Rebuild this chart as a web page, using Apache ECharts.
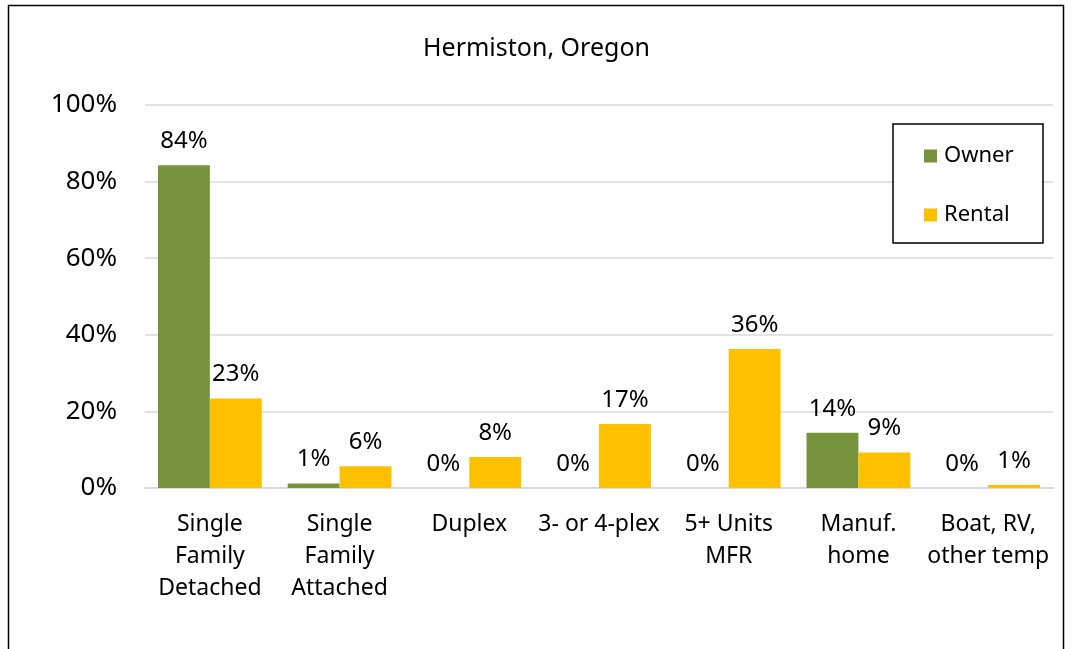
<!DOCTYPE html>
<html>
<head>
<meta charset="utf-8">
<script src="https://cdn.jsdelivr.net/npm/echarts@6/dist/echarts.min.js"></script>
<style>
    html, body { margin: 0; padding: 0; background: #fff; }
    #chart { width: 1073px; height: 649px; }
</style>
</head>
<body>
<div id="chart"></div>
<script>
// 数据
const categories = ['Single\nFamily\nDetached', 'Single\nFamily\nAttached', 'Duplex', '3- or 4-plex', '5+ Units\nMFR', 'Manuf.\nhome', 'Boat, RV,\nother temp'];
const ownerValues = [84.3, 1.2, 0, 0, 0, 14.4, 0];
const rentalValues = [23.4, 5.7, 8.1, 16.7, 36.3, 9.3, 0.8];
const yTicks = [0, 20, 40, 60, 80, 100];

const FONT = '"Noto Sans", sans-serif';

function initChart() {
    const chartDom = document.getElementById('chart');
    const myChart = echarts.init(chartDom);

    const labelStyle = {
        show: true,
        position: 'top',
        distance: 12,
        color: '#000',
        fontSize: 24,
        fontFamily: FONT,
        formatter: (p) => Math.round(p.value) + '%'
    };

    const option = {
        backgroundColor: '#fff',
        animation: false,
        title: {
            text: 'Hermiston, Oregon',
            left: 'center',
            top: 31,
            textStyle: { color: '#000', fontSize: 25, fontWeight: 'normal', fontFamily: FONT }
        },
        graphic: [{
            type: 'rect',
            shape: { x: 8.5, y: 5.5, width: 1055, height: 700 },
            style: { fill: 'none', stroke: '#000', lineWidth: 1.5 },
            silent: true
        }, {
            type: 'rect',
            shape: { x: 893, y: 124, width: 150, height: 119 },
            style: { fill: '#fff', stroke: '#000', lineWidth: 1.5 },
            z: 5,
            silent: true
        }],
        legend: {
            orient: 'vertical',
            left: 924,
            top: 144,
            padding: 0,
            itemWidth: 13,
            itemHeight: 13,
            itemGap: 35,
            icon: 'rect',
            z: 10,
            textStyle: { color: '#000', fontSize: 22, lineHeight: 24, fontFamily: FONT, padding: [0, 0, 0, 2] },
            data: ['Owner', 'Rental']
        },
        grid: {
            left: 145,
            right: 20,
            top: 105,
            bottom: 161
        },
        xAxis: {
            type: 'category',
            data: categories,
            axisLine: { lineStyle: { color: '#d9d9d9', width: 2 } },
            axisTick: { show: false },
            axisLabel: {
                color: '#000',
                fontSize: 23,
                fontFamily: FONT,
                lineHeight: 32,
                margin: 20,
                interval: 0
            }
        },
        yAxis: {
            type: 'value',
            min: 0,
            max: 100,
            interval: 20,
            axisLine: { show: false },
            axisTick: { show: false },
            axisLabel: {
                color: '#000',
                fontSize: 26,
                fontFamily: FONT,
                margin: 28,
                formatter: (v) => yTicks.includes(v) ? v + '%' : ''
            },
            splitLine: { lineStyle: { color: '#d9d9d9', width: 1.5 } }
        },
        series: [{
            name: 'Owner',
            type: 'bar',
            data: ownerValues,
            barGap: '0%',
            barCategoryGap: '20%',
            itemStyle: { color: '#77933C' },
            label: labelStyle
        }, {
            name: 'Rental',
            type: 'bar',
            data: rentalValues,
            barGap: '0%',
            barCategoryGap: '20%',
            itemStyle: { color: '#FFC000' },
            label: labelStyle
        }]
    };

    myChart.setOption(option);
}

initChart();
</script>
</body>
</html>
